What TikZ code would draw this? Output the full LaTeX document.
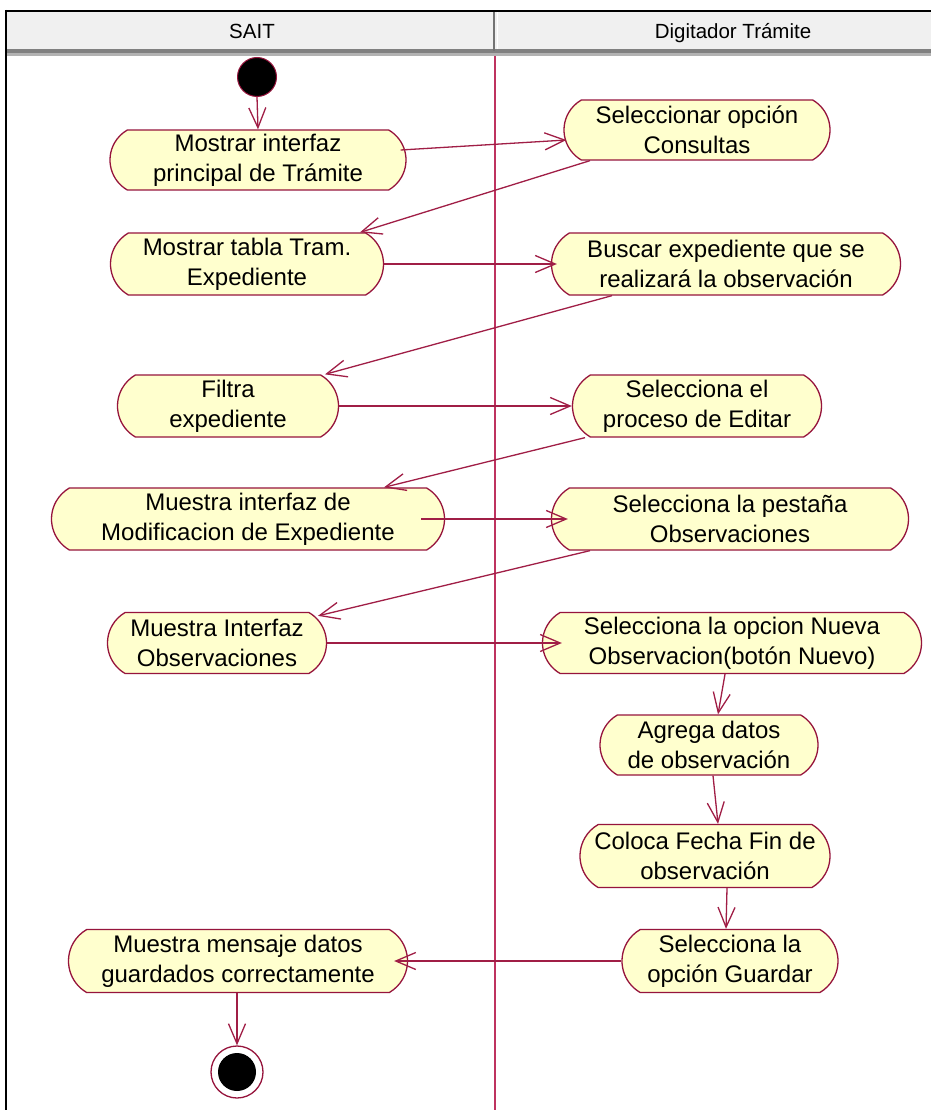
\documentclass[tikz,border=0pt]{standalone}
\usepackage{fontspec}
\setmainfont{Liberation Sans}
\usetikzlibrary{shapes.misc,arrows.meta}
\definecolor{rose}{RGB}{150,20,60}
\definecolor{roseline}{RGB}{160,30,70}
\definecolor{lanecol}{RGB}{190,50,95}
\definecolor{actfill}{RGB}{255,255,206}
\definecolor{hdrfill}{RGB}{240,240,240}
\begin{document}
\begin{tikzpicture}[x=1pt,y=-1pt,
  act/.style={rounded rectangle, rounded rectangle arc length=120, draw=rose, line width=1.3pt,
    fill=actfill, align=center, font=\fontsize{24}{30}\selectfont, inner xsep=2pt, inner ysep=0pt},
  flow/.style={draw=roseline, line width=1.3pt,
    -{Straight Barb[length=20pt,width=17pt,line width=1.3pt]}},
  hdr/.style={font=\fontsize{20.5}{24}\selectfont, inner sep=0pt, anchor=base}
]
\useasboundingbox (0,0) rectangle (931,1110);
\fill[white] (0,0) rectangle (931,1110);
% header
\fill[hdrfill] (6,11) rectangle (931,49);
\fill[black!50] (6,49) rectangle (931,53);
\fill[black!30] (6,53) rectangle (931,56);
\draw[black!55, line width=2.5pt] (494,11) -- (494,51);
\draw[white, line width=1pt] (497,12) -- (497,49);
\draw[black, line width=2pt] (6,11) -- (931,11);
\draw[black, line width=2.5pt] (6,10) -- (6,1110);
\node[hdr] (h1) at (252,39) {SAIT};
\node[hdr] (h2) at (733,39) {Digitador Trámite};
% swimlane divider
\draw[lanecol, line width=1.3pt] (495,56) -- (495,1110);

% start
\node[circle, fill=black, draw=rose, line width=1pt, minimum size=39pt, inner sep=0pt] (s) at (257,77) {};

% activities
\node[act, minimum width=300pt, minimum height=60pt] (n1) at (258,160) {Mostrar interfaz\\principal de Trámite};
\node[act, minimum width=270pt, minimum height=60pt] (n2) at (697,130) {Seleccionar opción\\Consultas};
\node[act, minimum width=277pt, minimum height=62pt] (n3) at (247,264) {Mostrar tabla Tram.\\Expediente};
\node[act, minimum width=353pt, minimum height=62pt] (n4) at (726,264) {Buscar expediente que se\\realizará la observación};
\node[act, minimum width=225pt, minimum height=62pt] (n5) at (228,406) {Filtra\\expediente};
\node[act, minimum width=253pt, minimum height=62pt] (n6) at (697,406) {Selecciona el\\proceso de Editar};
\node[act, minimum width=397pt, minimum height=62pt] (n7) at (248,519) {Muestra interfaz de\\Modificacion de Expediente};
\node[act, minimum width=361pt, minimum height=62pt] (n8) at (730,519) {Selecciona la pestaña\\Observaciones};
\node[act, minimum width=223pt, minimum height=61pt] (n9) at (217,643) {Muestra Interfaz\\Observaciones};
\node[act, minimum width=383pt, minimum height=61pt] (n10) at (732,643) {Selecciona la opcion Nueva\\Observacion(botón Nuevo)};
\node[act, minimum width=222pt, minimum height=60pt] (n11) at (709,745) {Agrega datos\\de observación};
\node[act, minimum width=254pt, minimum height=63pt] (n12) at (705,856) {Coloca Fecha Fin de\\observación};
\node[act, minimum width=220pt, minimum height=63pt] (n13) at (730,961) {Selecciona la\\opción Guardar};
\node[act, minimum width=343pt, minimum height=63pt] (n14) at (238,961) {Muestra mensaje datos\\guardados correctamente};

% end
\node[circle, draw=rose, line width=1.3pt, fill=white, minimum size=52pt, inner sep=0pt] (e) at (237,1072) {};
\node[circle, fill=black, minimum size=38pt, inner sep=0pt] (ei) at (e) {};

% flows
\draw[flow] (s.south) -- (n1.north);
\draw[flow] ([xshift=-6pt,yshift=10pt]n1.east) -- ([xshift=3pt,yshift=-10pt]n2.west);
\draw[flow] ([xshift=-107pt]n2.south) -- ([xshift=113pt]n3.north);
\draw[flow] (n3.east) -- ([xshift=6pt]n4.west);
\draw[flow] ([xshift=-114pt]n4.south) -- ([xshift=97pt]n5.north);
\draw[flow] (n5.east) -- (n6.west);
\draw[flow] ([xshift=-112pt]n6.south) -- ([xshift=136pt]n7.north);
\draw[flow] ([xshift=-24pt]n7.east) -- ([xshift=17pt]n8.west);
\draw[flow] ([xshift=-140pt]n8.south) -- ([xshift=101pt,yshift=-4pt]n9.north);
\draw[flow] (n9.east) -- ([xshift=20pt]n10.west);
\draw[flow] ([xshift=-7pt]n10.south) -- ([xshift=9pt]n11.north);
\draw[flow] ([xshift=4pt]n11.south) -- ([xshift=13pt]n12.north);
\draw[flow] ([xshift=22pt]n12.south) -- ([xshift=-4pt]n13.north);
\draw[flow] (n13.west) -- ([xshift=-14pt]n14.east);
\draw[flow] ([xshift=-1pt]n14.south) -- (e.north);
\end{tikzpicture}
\end{document}
